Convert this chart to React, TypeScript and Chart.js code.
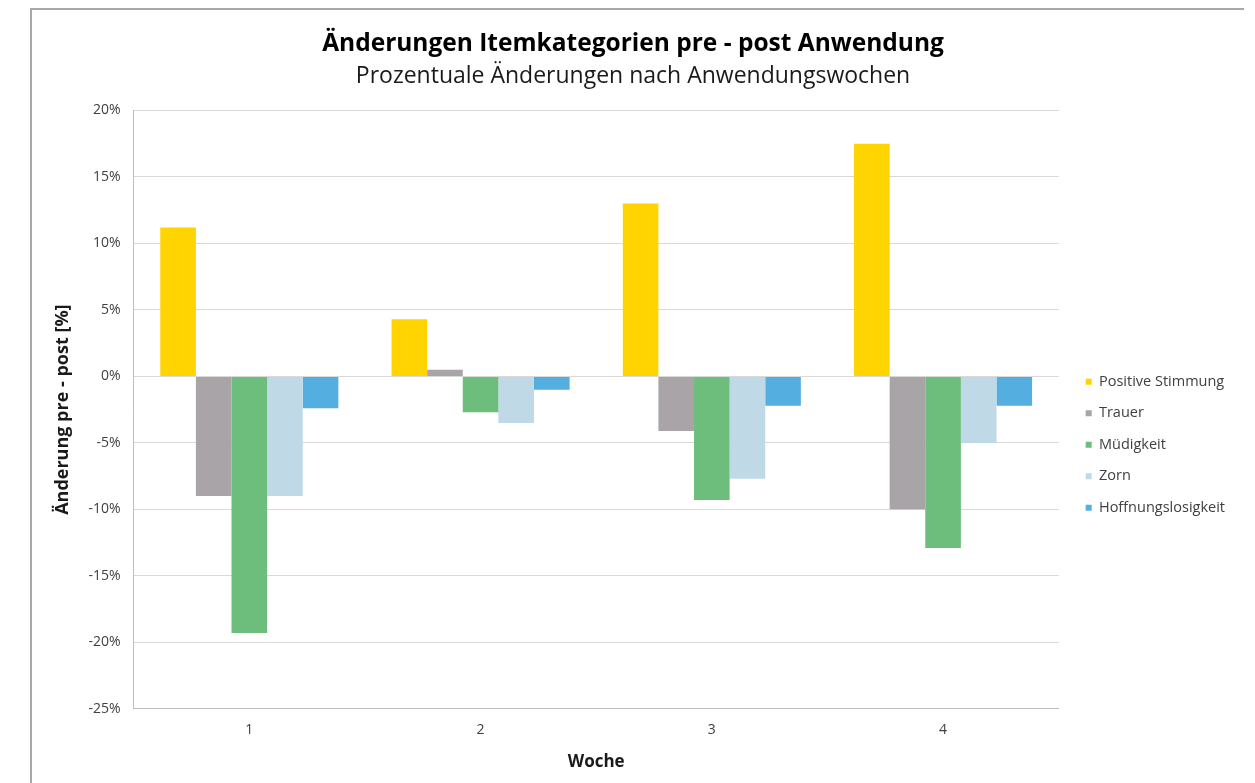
import React, { useEffect, useRef } from "react";
import { Chart, registerables } from "chart.js";

Chart.register(...registerables);

const categories = ["1", "2", "3", "4"];
const seriesNames = ["Positive Stimmung", "Trauer", "Müdigkeit", "Zorn", "Hoffnungslosigkeit"];
const positiveStimmung = [11.2, 4.3, 13.0, 17.5];
const trauer = [-9.0, 0.5, -4.1, -10.0];
const muedigkeit = [-19.3, -2.7, -9.3, -12.9];
const zorn = [-9.0, -3.5, -7.7, -5.0];
const hoffnungslosigkeit = [-2.4, -1.0, -2.2, -2.2];
const seriesColors = ["#FFD400", "#A9A4A8", "#6DBE7C", "#BFD9E6", "#55AEE0"];
const yTicks = [-25, -20, -15, -10, -5, 0, 5, 10, 15, 20];

const FONT = "'Open Sans', 'Liberation Sans', sans-serif";

export default function App() {
  const ref = useRef<HTMLCanvasElement | null>(null);

  useEffect(() => {
    document.body.style.margin = "0";
    const ctx = ref.current;
    if (!ctx) return;
    const seriesData = [positiveStimmung, trauer, muedigkeit, zorn, hoffnungslosigkeit];
    const chart = new Chart(ctx, {
      type: "bar",
      data: {
        labels: categories,
        datasets: seriesNames.map((name, i) => ({
          label: name,
          data: seriesData[i],
          backgroundColor: seriesColors[i],
          borderWidth: 0,
          categoryPercentage: 0.77,
          barPercentage: 1.0,
        })),
      },
      options: {
        animation: false,
        responsive: false,
        maintainAspectRatio: false,
        layout: { padding: { left: 31, top: 29, right: 20, bottom: 11 } },
        plugins: {
          title: {
            display: true,
            text: "Änderungen Itemkategorien pre - post Anwendung",
            color: "#000000",
            font: { family: FONT, size: 24.5, weight: "bold" },
            padding: { top: 0, bottom: 4.5 },
          },
          subtitle: {
            display: true,
            text: "Prozentuale Änderungen nach Anwendungswochen",
            color: "#1a1a1a",
            font: { family: FONT, size: 23 },
            padding: { top: 0, bottom: 20 },
          },
          legend: {
            position: "right",
            align: "center",
            title: { display: true, text: "", padding: 39.5, font: { size: 8 } },
            labels: {
              boxWidth: 6,
              boxHeight: 6,
              padding: 17,
              color: "#404040",
              font: { family: FONT, size: 14.5 },
            },
          },
          tooltip: { enabled: false },
        },
        scales: {
          x: {
            grid: { display: false, drawTicks: false },
            border: { display: true, color: "#BFBFBF", width: 1 },
            ticks: { color: "#404040", font: { family: FONT, size: 14 }, padding: 13 },
            title: {
              display: true,
              text: "Woche",
              color: "#1a1a1a",
              font: { family: FONT, size: 17, weight: "bold" },
              padding: { top: 0, bottom: 0 },
            },
          },
          y: {
            min: -25,
            max: 20,
            afterBuildTicks: (axis: any) => {
              axis.ticks = yTicks.map((v) => ({ value: v }));
            },
            grid: { color: "#D9D9D9", drawTicks: false },
            border: { display: true, color: "#BFBFBF", width: 1 },
            ticks: {
              color: "#404040",
              font: { family: FONT, size: 14 },
              padding: 13,
              callback: (v: any) => `${v}%`,
            },
            title: {
              display: true,
              text: "Änderung pre - post [%]",
              color: "#1a1a1a",
              font: { family: FONT, size: 18, weight: "bold" },
              padding: { top: 21, bottom: 2 },
            },
          },
          gap: {
            type: "linear",
            position: "right",
            display: true,
            grid: { display: false, drawTicks: false },
            border: { display: false },
            ticks: { display: false },
            afterFit: (axis: any) => {
              axis.width = 10;
            },
          },
        },
      },
    });
    return () => chart.destroy();
  }, []);

  return (
    <div style={{ position: "relative", width: 1255, height: 783, overflow: "hidden", background: "#fff" }}>
      <div
        style={{
          position: "absolute",
          left: 30,
          top: 8,
          width: 1212,
          height: 800,
          borderTop: "2px solid #A8A8A8",
          borderLeft: "2px solid #A8A8A8",
        }}
      />
      <canvas ref={ref} width={1255} height={783} style={{ position: "absolute", left: 0, top: 0 }} />
    </div>
  );
}
